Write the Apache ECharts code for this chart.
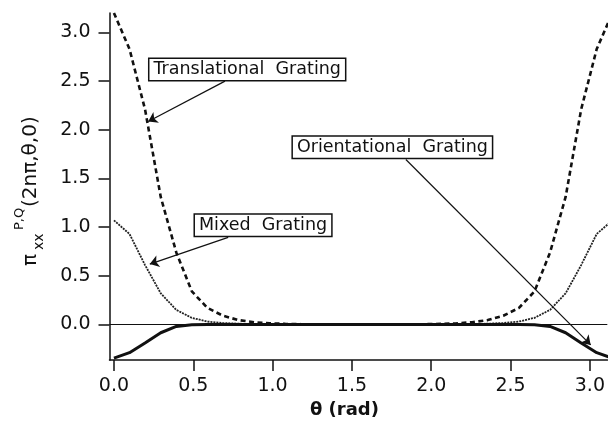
<!DOCTYPE html>
<html>
<head>
<meta charset="utf-8">
<script src="https://cdn.jsdelivr.net/npm/echarts@6/dist/echarts.min.js"></script>
<style>
  html, body { margin: 0; padding: 0; background: #fff; }
  #chart { width: 608px; height: 424px; }
</style>
</head>
<body>
<div id="chart"></div>
<script>
// Angle samples θ (rad), from 0 to π
const theta = [0, 0.098, 0.196, 0.295, 0.393, 0.491, 0.589, 0.687, 0.785, 0.884, 0.982,
  1.080, 1.178, 1.276, 1.374, 1.473, 1.571, 1.669, 1.767, 1.865, 1.963, 2.062,
  2.160, 2.258, 2.356, 2.454, 2.553, 2.651, 2.749, 2.847, 2.945, 3.043, 3.142];

// π_xx^{P,Q}(2nπ, θ, 0) for the three gratings
const translational = [3.20, 2.83, 2.21, 1.31, 0.74, 0.34, 0.17, 0.09, 0.045, 0.023, 0.012,
  0.006, 0.003, 0.002, 0.001, 0, 0, 0, 0.001, 0.002, 0.003, 0.006,
  0.012, 0.023, 0.045, 0.09, 0.17, 0.34, 0.74, 1.31, 2.21, 2.83, 3.20];
const mixed = [1.07, 0.93, 0.61, 0.32, 0.15, 0.068, 0.03, 0.015, 0.008, 0.004, 0.002,
  0.001, 0, 0, 0, 0, 0, 0, 0, 0, 0, 0.001,
  0.002, 0.004, 0.008, 0.015, 0.03, 0.068, 0.15, 0.32, 0.61, 0.93, 1.07];
const orientational = [-0.345, -0.29, -0.19, -0.085, -0.02, -0.004, 0, 0, 0, 0, 0,
  0, 0, 0, 0, 0, 0, 0, 0, 0, 0, 0,
  0, 0, 0, 0, 0, -0.004, -0.02, -0.085, -0.19, -0.29, -0.345];

// Tick positions
const xTicks = [0, 0.5, 1.0, 1.5, 2.0, 2.5, 3.0];
const yTicks = [0, 0.5, 1.0, 1.5, 2.0, 2.5, 3.0];

// Boxed curve labels and their arrows, in data units (θ, value)
const labelNames = ['Translational  Grating', 'Mixed  Grating', 'Orientational  Grating'];
const labelAt = [[0.84, 2.62], [0.94, 1.02], [1.755, 1.82]];
const arrowFrom = [[0.70, 2.50], [0.72, 0.895], [1.84, 1.695]];
const arrowTo = [[0.216, 2.085], [0.226, 0.62], [3.005, -0.21]];

const ink = '#111';
const font = 'DejaVu Sans';

function pairs(ys) {
  return theta.map((t, i) => [t, ys[i]]);
}

function annotate(i) {
  return {
    markPoint: {
      silent: true,
      symbol: 'rect',
      symbolSize: 1,
      itemStyle: { color: 'rgba(0,0,0,0)' },
      label: {
        show: true,
        position: 'inside',
        formatter: p => p.name,
        color: ink,
        fontFamily: font,
        fontSize: 17.5,
        backgroundColor: '#fff',
        borderColor: ink,
        borderWidth: 1.5,
        padding: [2, 4, 1, 4]
      },
      data: [{ name: labelNames[i], coord: labelAt[i] }]
    },
    markLine: {
      silent: true,
      symbol: ['none', 'arrow'],
      symbolSize: 9,
      label: { show: false },
      lineStyle: { color: ink, width: 1.2, type: 'solid' },
      data: [[{ coord: arrowFrom[i] }, { coord: arrowTo[i] }]]
    }
  };
}

const chart = echarts.init(document.getElementById('chart'), null, { renderer: 'canvas' });

chart.setOption({
  animation: false,
  backgroundColor: '#fff',
  grid: { left: 109.5, right: 0, top: 13, bottom: 59 },
  xAxis: {
    type: 'value',
    min: -0.028,
    max: 3.11,
    name: 'θ (rad)',
    nameLocation: 'middle',
    nameGap: 41,
    nameTextStyle: { color: ink, fontFamily: font, fontSize: 18, fontWeight: 600, padding: [0, 28, 0, 0] },
    axisLine: { show: true, onZero: false, lineStyle: { color: ink, width: 1.5 } },
    axisTick: { show: true, inside: false, length: 11, customValues: xTicks, lineStyle: { color: ink, width: 1.5 } },
    axisLabel: {
      customValues: xTicks,
      margin: 17,
      color: ink,
      fontFamily: font,
      fontSize: 19,
      formatter: v => v.toFixed(1)
    },
    splitLine: { show: false }
  },
  yAxis: {
    type: 'value',
    min: -0.365,
    max: 3.2,
    axisLine: { show: true, onZero: false, lineStyle: { color: ink, width: 1.5 } },
    axisTick: { show: true, inside: false, length: 11, customValues: yTicks, lineStyle: { color: ink, width: 1.5 } },
    axisLabel: {
      customValues: yTicks,
      margin: 19,
      color: ink,
      fontFamily: font,
      fontSize: 19,
      formatter: v => v.toFixed(1)
    },
    splitLine: { show: false }
  },
  series: [
    Object.assign({
      name: 'Translational Grating',
      type: 'line',
      data: pairs(translational),
      showSymbol: false,
      symbol: 'none',
      lineStyle: { color: ink, width: 2.6, type: [5, 3.5] },
      z: 3
    }, annotate(0)),
    Object.assign({
      name: 'Mixed Grating',
      type: 'line',
      data: pairs(mixed),
      showSymbol: false,
      symbol: 'none',
      lineStyle: { color: '#222', width: 1.8, type: [2, 1] },
      z: 3
    }, annotate(1)),
    Object.assign({
      name: 'Orientational Grating',
      type: 'line',
      data: pairs(orientational),
      showSymbol: false,
      symbol: 'none',
      lineStyle: { color: ink, width: 3 },
      z: 4
    }, annotate(2)),
    {
      // horizontal reference at zero
      name: 'zero',
      type: 'line',
      data: [],
      markLine: {
        silent: true,
        symbol: 'none',
        label: { show: false },
        lineStyle: { color: ink, width: 1, type: 'solid' },
        data: [{ yAxis: 0 }]
      },
      z: 2
    }
  ],
  graphic: [{
    // rotated y-axis title: π_xx^{P,Q}(2nπ,θ,0)
    type: 'group',
    x: 31,
    y: 266,
    rotation: Math.PI / 2,
    children: [
      { type: 'text', x: 0, y: 0, style: { text: 'π', fill: ink, font: '20px "DejaVu Sans"', verticalAlign: 'middle', align: 'left' } },
      { type: 'text', x: 16, y: 8, style: { text: 'xx', fill: ink, font: '14px "DejaVu Sans"', verticalAlign: 'middle', align: 'left' } },
      { type: 'text', x: 36, y: -11, style: { text: 'P,Q', fill: ink, font: '13px "DejaVu Sans"', verticalAlign: 'middle', align: 'left' } },
      { type: 'text', x: 59, y: 0, style: { text: '(2nπ,θ,0)', fill: ink, font: '20px "DejaVu Sans"', verticalAlign: 'middle', align: 'left' } }
    ]
  }]
});
</script>
</body>
</html>
